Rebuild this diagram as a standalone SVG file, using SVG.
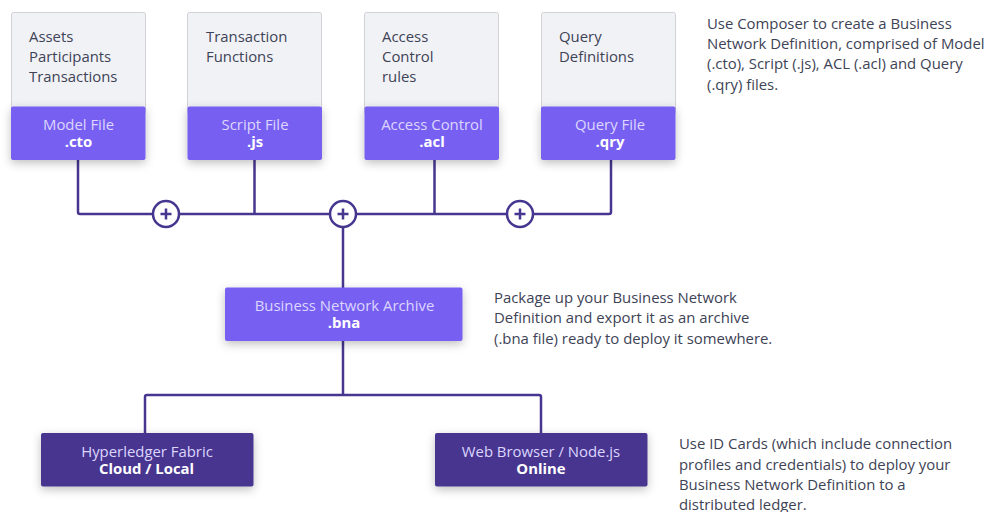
<svg xmlns="http://www.w3.org/2000/svg" width="987" height="512" viewBox="0 0 987 512">
<defs><filter id="s" x="-20%" y="-30%" width="140%" height="170%"><feDropShadow dx="0" dy="3" stdDeviation="5" flood-color="#000" flood-opacity="0.25"/></filter></defs>
<style>
text{font-family:"Open Sans","Noto Sans",sans-serif;font-size:14.9px}
.t{fill:#3e4356}
.c{text-anchor:middle;fill:#ddd6ff}
.b{font-weight:700;fill:#fff}
.top{fill:#f1f2f6;stroke:#d2d2d6;stroke-width:1}
.p{fill:#7760f1;filter:url(#s)}
.d{fill:#47368f;filter:url(#s)}
.l{fill:none;stroke:#47368f;stroke-width:2.5;stroke-linejoin:round}
.pc{fill:#fff;stroke:#47368f;stroke-width:2.5}
</style>
<rect width="987" height="512" fill="#fff"/>
<g id="connectors">
<path class="l" d="M78 158V212Q78 214 80 214H609Q611 214 611 212V158M254.500 158V214M434.500 158V214M343 214V288M343 340V395M145 433V397Q145 395 147 395H539Q541 395 541 397V433"/>
</g>
<g id="plus1"><circle class="pc" cx="166" cy="214" r="13"/><path class="l" d="M160.500 214H171.500M166 208.500V219.500"/></g>
<g id="plus2"><circle class="pc" cx="343" cy="214" r="13"/><path class="l" d="M337.500 214H348.500M343 208.500V219.500"/></g>
<g id="plus3"><circle class="pc" cx="520" cy="214" r="13"/><path class="l" d="M514.500 214H525.500M520 208.500V219.500"/></g>
<g id="model">
<rect class="top" x="11.500" y="12.500" width="134" height="102" rx="2"/>
<text class="t" x="29" y="42">Assets</text><text class="t" x="29" y="62">Participants</text><text class="t" x="29" y="82">Transactions</text>
<rect class="p" x="11" y="106.500" width="134.500" height="53.500" rx="2"/>
<text class="c" x="78.500" y="129.500">Model File</text><text class="c b" x="78.500" y="147">.cto</text>
</g>
<g id="script">
<rect class="top" x="187.500" y="12.500" width="134" height="102" rx="2"/>
<text class="t" x="206" y="42">Transaction</text><text class="t" x="206" y="62">Functions</text>
<rect class="p" x="187.500" y="106.500" width="134.500" height="53.500" rx="2"/>
<text class="c" x="255" y="129.500">Script File</text><text class="c b" x="255" y="147">.js</text>
</g>
<g id="acl">
<rect class="top" x="364.500" y="12.500" width="134" height="102" rx="2"/>
<text class="t" x="382" y="42">Access</text><text class="t" x="382" y="62">Control</text><text class="t" x="382" y="82">rules</text>
<rect class="p" x="364.500" y="106.500" width="134.500" height="53.500" rx="2"/>
<text class="c" x="432" y="129.500">Access Control</text><text class="c b" x="432" y="147">.acl</text>
</g>
<g id="query">
<rect class="top" x="541.500" y="12.500" width="134" height="102" rx="2"/>
<text class="t" x="559" y="42">Query</text><text class="t" x="559" y="62">Definitions</text>
<rect class="p" x="541" y="106.500" width="134.500" height="53.500" rx="2"/>
<text class="c" x="610" y="129.500">Query File</text><text class="c b" x="610" y="147">.qry</text>
</g>
<g id="bna">
<rect class="p" x="225" y="287.500" width="237.500" height="53.500" rx="2"/>
<text class="c" x="344.500" y="310.500">Business Network Archive</text><text class="c b" x="344" y="328">.bna</text>
</g>
<g id="fabric">
<rect class="d" x="41" y="433" width="212.500" height="53.500" rx="2"/>
<text class="c" x="147" y="456.500">Hyperledger Fabric</text><text class="c b" x="146.500" y="473.500">Cloud / Local</text>
</g>
<g id="browser">
<rect class="d" x="435" y="433" width="212.500" height="53.500" rx="2"/>
<text class="c" x="541" y="456.500">Web Browser / Node.js</text><text class="c b" x="541" y="473.500">Online</text>
</g>
<g id="notes">
<text class="t" x="707" y="29">Use Composer to create a Business</text>
<text class="t" x="707" y="49">Network Definition, comprised of Model</text>
<text class="t" x="707" y="69">(.cto), Script (.js), ACL (.acl) and Query</text>
<text class="t" x="707" y="90">(.qry) files.</text>
<text class="t" x="494" y="303">Package up your Business Network</text>
<text class="t" x="494" y="323">Definition and export it as an archive</text>
<text class="t" x="494" y="344">(.bna file) ready to deploy it somewhere.</text>
<text class="t" x="679" y="449">Use ID Cards (which include connection</text>
<text class="t" x="679" y="470">profiles and credentials) to deploy your</text>
<text class="t" x="679" y="490">Business Network Definition to a</text>
<text class="t" x="679" y="510">distributed ledger.</text>
</g>
</svg>
